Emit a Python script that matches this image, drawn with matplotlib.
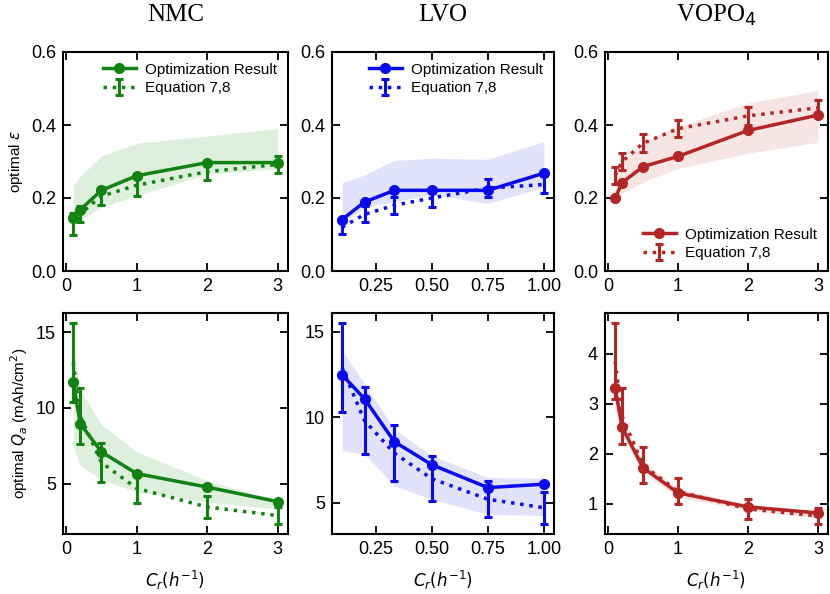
import numpy as np
import matplotlib
matplotlib.use("Agg")
import matplotlib.pyplot as plt

plt.rcParams['font.family'] = ['Liberation Sans', 'DejaVu Sans']
plt.rcParams['mathtext.fontset'] = 'dejavusans'

# C-rates
x_nmc = [0.1, 0.2, 0.5, 1, 2, 3]
x_lvo = [0.1, 0.2, 0.333, 0.5, 0.75, 1.0]
x_vopo = [0.1, 0.2, 0.5, 1, 2, 3]

# optimal porosity
eps_opt_nmc = [0.146, 0.168, 0.221, 0.261, 0.297, 0.297]
eps_eq_nmc = [0.13, 0.157, 0.205, 0.235, 0.272, 0.292]
eps_err_nmc = [0.03, 0.022, 0.025, 0.029, 0.023, 0.023]
eps_hi_nmc = [0.235, 0.26, 0.315, 0.35, 0.37, 0.39]
eps_lo_nmc = [0.13, 0.14, 0.175, 0.207, 0.265, 0.281]

eps_opt_lvo = [0.141, 0.189, 0.221, 0.221, 0.221, 0.268]
eps_eq_lvo = [0.12, 0.155, 0.18, 0.2, 0.227, 0.237]
eps_err_lvo = [0.019, 0.022, 0.023, 0.024, 0.024, 0.024]
eps_hi_lvo = [0.242, 0.263, 0.303, 0.309, 0.306, 0.355]
eps_lo_lvo = [0.13, 0.175, 0.19, 0.21, 0.185, 0.23]

eps_opt_vopo = [0.2, 0.242, 0.286, 0.314, 0.385, 0.427]
eps_eq_vopo = [0.262, 0.3, 0.35, 0.39, 0.425, 0.447]
eps_err_vopo = [0.024, 0.022, 0.024, 0.024, 0.025, 0.022]
eps_hi_vopo = [0.26, 0.3, 0.355, 0.395, 0.46, 0.495]
eps_lo_vopo = [0.175, 0.212, 0.244, 0.281, 0.323, 0.352]

# optimal areal capacity
q_opt_nmc = [11.7, 8.96, 7.1, 5.67, 4.78, 3.82]
q_eq_nmc = [13.0, 9.45, 6.4, 4.7, 3.47, 2.9]
q_err_nmc = [2.6, 1.85, 1.3, 0.95, 0.7, 0.55]
q_hi_nmc = [13.9, 11.2, 8.9, 7.1, 5.2, 3.9]
q_lo_nmc = [7.5, 6.2, 5.3, 4.45, 3.8, 3.33]

q_opt_lvo = [12.49, 11.08, 8.57, 7.22, 5.88, 6.08]
q_eq_lvo = [12.9, 9.8, 7.9, 6.4, 5.2, 4.7]
q_err_lvo = [2.62, 1.96, 1.62, 1.33, 1.05, 0.95]
q_hi_lvo = [13.9, 11.96, 9.3, 7.75, 6.47, 6.43]
q_lo_lvo = [8.04, 7.84, 5.98, 5.2, 4.31, 4.25]

q_opt_vopo = [3.31, 2.53, 1.72, 1.22, 0.94, 0.82]
q_eq_vopo = [3.85, 2.75, 1.77, 1.25, 0.9, 0.76]
q_err_vopo = [0.76, 0.56, 0.36, 0.26, 0.2, 0.16]
q_hi_vopo = [3.5, 2.65, 1.85, 1.3, 1.0, 0.86]
q_lo_vopo = [2.9, 2.35, 1.62, 1.13, 0.87, 0.72]

titles = ['NMC', 'LVO', 'VOPO$_4$']
colors = ['#128312', '#0a0af0', '#b42525']
band_colors = ['#7cc07c', '#8c8cf0', '#e09a9a']

top_data = [
    (x_nmc, eps_opt_nmc, eps_eq_nmc, eps_err_nmc, eps_hi_nmc, eps_lo_nmc),
    (x_lvo, eps_opt_lvo, eps_eq_lvo, eps_err_lvo, eps_hi_lvo, eps_lo_lvo),
    (x_vopo, eps_opt_vopo, eps_eq_vopo, eps_err_vopo, eps_hi_vopo, eps_lo_vopo),
]
bot_data = [
    (x_nmc, q_opt_nmc, q_eq_nmc, q_err_nmc, q_hi_nmc, q_lo_nmc),
    (x_lvo, q_opt_lvo, q_eq_lvo, q_err_lvo, q_hi_lvo, q_lo_lvo),
    (x_vopo, q_opt_vopo, q_eq_vopo, q_err_vopo, q_hi_vopo, q_lo_vopo),
]

fig = plt.figure(figsize=(8.3, 5.94), dpi=100)
W, H = 830, 594
lefts = [63, 332, 605]
widths = [225, 222, 223]


def style_axis(ax):
    ax.tick_params(direction='in', top=True, right=True, length=6, width=1.3,
                   labelsize=13, pad=5)
    for s in ax.spines.values():
        s.set_linewidth(1.5)


def draw(ax, d, c, bc):
    x, opt, eq, err, hi, lo = d
    ax.fill_between(x, lo, hi, color=bc, alpha=0.25, linewidth=0)
    ax.plot(x, opt, '-o', color=c, lw=2.5, ms=7, label='Optimization Result')
    ax.errorbar(x, eq, yerr=err, color=c, ls=':', lw=2.5, elinewidth=2.2,
                capsize=3, capthick=2.2, label='Equation 7,8')


for i in range(3):
    ax = fig.add_axes([lefts[i] / W, (H - 271) / H, widths[i] / W, 219 / H])
    draw(ax, top_data[i], colors[i], band_colors[i])
    ax.set_ylim(0, 0.6)
    ax.set_yticks([0, 0.2, 0.4, 0.6])
    if i == 1:
        ax.set_xticks([0.25, 0.5, 0.75, 1.0])
    else:
        ax.set_xticks([0, 1, 2, 3])
    style_axis(ax)
    ax.set_title(titles[i], family=['Liberation Serif'], fontsize=18, pad=22)
    if i == 0:
        ax.set_ylabel('optimal $\\epsilon$', fontsize=11)
    loc = 'lower right' if i == 2 else 'upper right'
    ax.legend(loc=loc, frameon=False, fontsize=11, handlelength=2.2,
              borderaxespad=0.3, labelspacing=0.3, handletextpad=0.6)

    axb = fig.add_axes([lefts[i] / W, (H - 534) / H, widths[i] / W, 221 / H])
    draw(axb, bot_data[i], colors[i], band_colors[i])
    if i == 0:
        axb.set_yticks([5, 10, 15])
        axb.set_xticks([0, 1, 2, 3])
        axb.set_ylabel('optimal $Q_a$ (mAh/cm$^2$)', fontsize=11)
    elif i == 1:
        axb.set_yticks([5, 10, 15])
        axb.set_xticks([0.25, 0.5, 0.75, 1.0])
    else:
        axb.set_yticks([1, 2, 3, 4])
        axb.set_xticks([0, 1, 2, 3])
    style_axis(axb)
    axb.set_xlabel('$C_r(h^{-1})$', fontsize=12, labelpad=8)

fig.savefig('out.png', dpi=100)
